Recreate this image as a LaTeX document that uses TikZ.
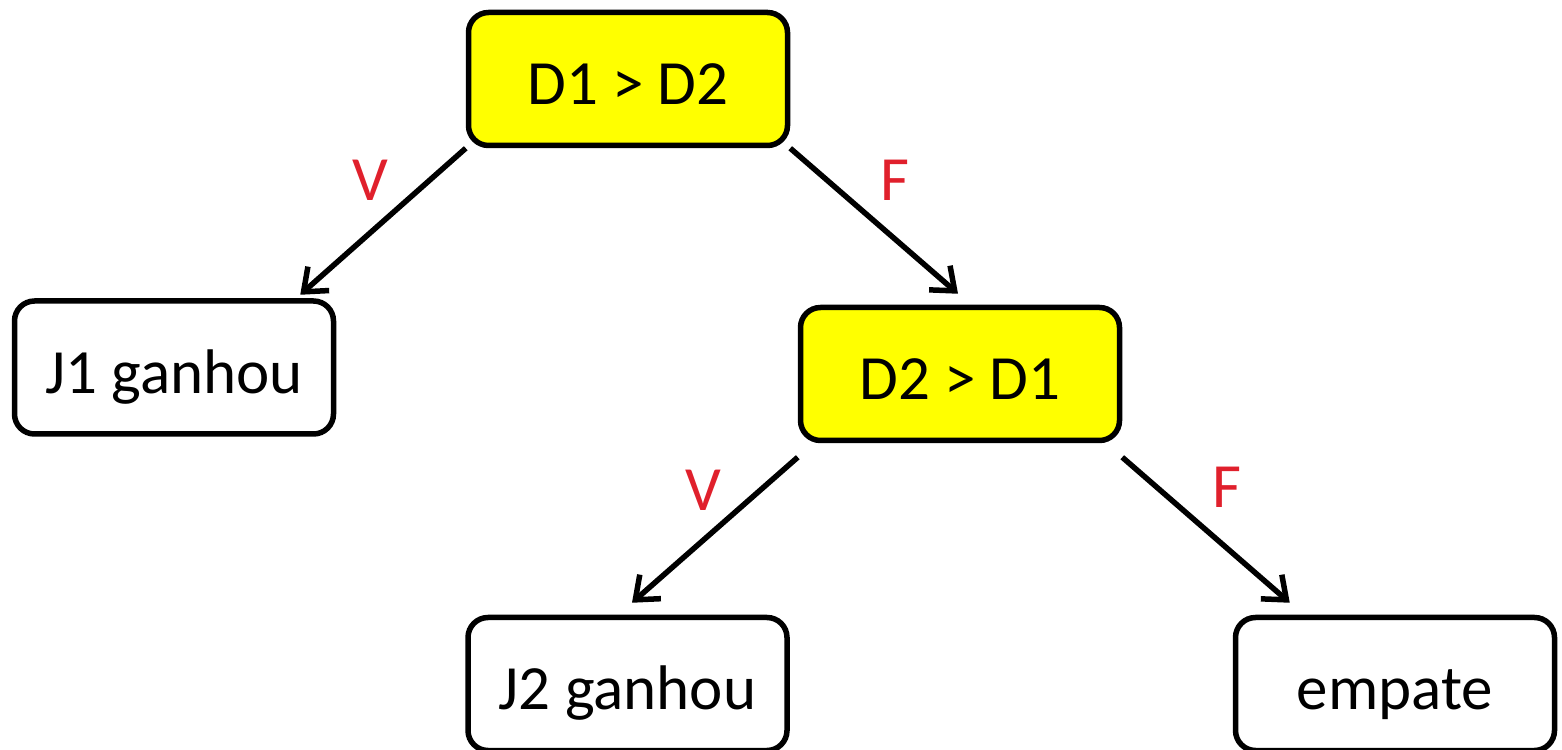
\documentclass[tikz,border=0pt]{standalone}
\usepackage{fontspec}
\setmainfont{Carlito}
\usetikzlibrary{arrows.meta,calc}
\definecolor{boxyellow}{HTML}{FFFF00}
\definecolor{labelred}{HTML}{E0202C}
\begin{document}
\begin{tikzpicture}[x=1pt,y=1pt,
  box/.style={draw=black, line width=5.5pt, rounded corners=20pt,
    minimum width=319pt, minimum height=133pt, inner sep=0pt,
    text height=52pt, text depth=0pt,
    font=\fontsize{63}{70}\selectfont},
  test/.style={box, fill=boxyellow},
  result/.style={box, fill=white},
  link/.style={line width=5.5pt, -{Straight Barb[length=20pt,width=32pt,line width=5.5pt]}},
  branch/.style={text=labelred, font=\fontsize{63}{70}\selectfont}]
\useasboundingbox (0,0) rectangle (1562,749);
\clip (0,0) rectangle (1562,749);
% decision nodes
\node[test]   (q1) at (628,670)   {D1 > D2};
\node[test]   (q2) at (960,375)   {D2 > D1};
% outcomes
\node[result] (j1) at (174,381.5) {J1 ganhou};
\node[result] (j2) at (627.5,65)  {J2 ganhou};
\node[result] (em) at (1395,65)   {empate};
% branches
\draw[link] (q1.south west) -- ($(j1.north east)+(-36,3.5)$);
\draw[link] (q1.south east) -- ($(q2.north)+(-2,11)$);
\draw[link] ($(q2.south west)+(0,-14)$) -- ($(j2.north)+(4.5,12)$);
\draw[link] ($(q2.south east)+(0,-14)$) -- ($(em.north west)+(57,12)$);
% branch labels
\node[branch] (v1) at (370,569) {V};
\node[branch] (f1) at (895,569) {F};
\node[branch] (v2) at (703,259) {V};
\node[branch] (f2) at (1227,262) {F};
\end{tikzpicture}
\end{document}
